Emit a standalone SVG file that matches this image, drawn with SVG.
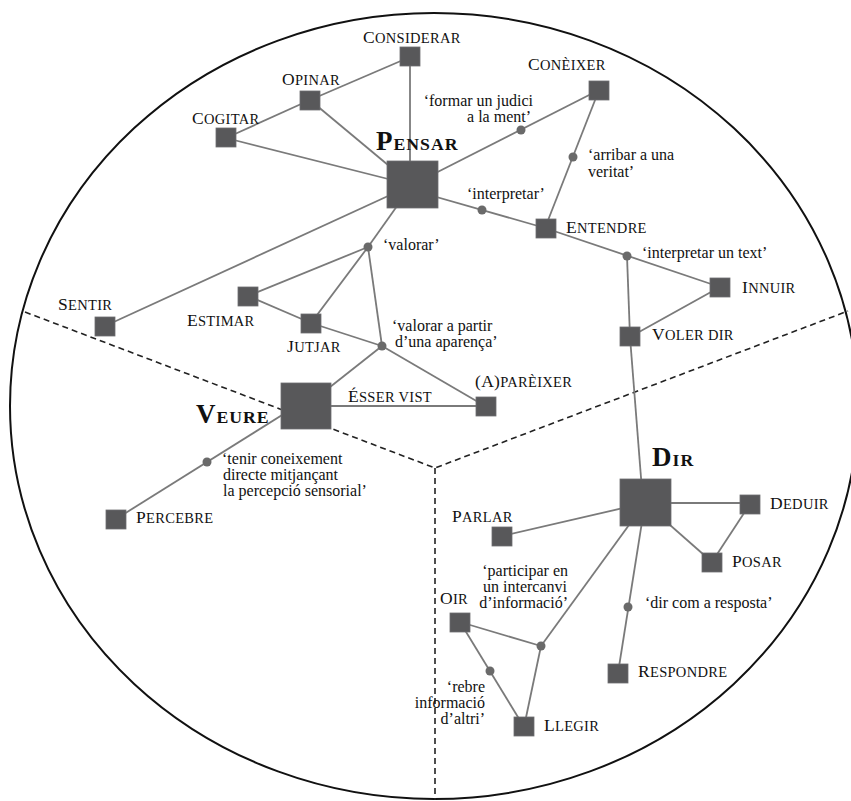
<svg xmlns="http://www.w3.org/2000/svg" width="851" height="801" viewBox="0 0 851 801">
<style>
.bg{fill:#ffffff}
.frame{fill:none;stroke:#111;stroke-width:2}
.dash{fill:none;stroke:#222;stroke-width:1.6;stroke-dasharray:6 4}
.ln{stroke:#7a7a7a;stroke-width:1.8;fill:none}
.box{fill:#58585a;stroke:#6e6e70;stroke-width:0.8}
.dot{fill:#6a6a6a}
text{font-family:"Liberation Serif","Times New Roman",serif;fill:#111}
.sc{font-size:14.5px;letter-spacing:0.3px}
.sc .b{font-size:17.5px}
.bold{font-size:17.7px;font-weight:bold;letter-spacing:1px}
.bold .b{font-size:27px}
.gl{font-size:16px}
.end{text-anchor:end}
</style>
<rect class="bg" x="0" y="0" width="851" height="801"/>
<ellipse class="frame" cx="434" cy="406" rx="424" ry="393"/>
<g id="dividers">
<polyline class="dash" points="25,312 435,468 848,311"/>
<line class="dash" x1="435" y1="468" x2="435" y2="800"/>
</g>
<g id="connectors">
<line class="ln" x1="410" y1="57" x2="310" y2="100"/>
<line class="ln" x1="310" y1="100" x2="226" y2="138"/>
<line class="ln" x1="410" y1="57" x2="410" y2="185"/>
<line class="ln" x1="310" y1="100" x2="412" y2="185"/>
<line class="ln" x1="226" y1="138" x2="412" y2="185"/>
<line class="ln" x1="412" y1="185" x2="599" y2="90"/>
<line class="ln" x1="412" y1="190" x2="545" y2="228"/>
<line class="ln" x1="599" y1="90" x2="545" y2="228"/>
<line class="ln" x1="545" y1="228" x2="720" y2="287"/>
<line class="ln" x1="627" y1="256" x2="630" y2="337"/>
<line class="ln" x1="630" y1="337" x2="720" y2="287"/>
<line class="ln" x1="630" y1="337" x2="643" y2="503"/>
<line class="ln" x1="412" y1="185" x2="105" y2="326"/>
<line class="ln" x1="412" y1="185" x2="368" y2="247"/>
<line class="ln" x1="368" y1="247" x2="248" y2="296"/>
<line class="ln" x1="368" y1="247" x2="311" y2="323"/>
<line class="ln" x1="368" y1="247" x2="382" y2="346"/>
<line class="ln" x1="248" y1="296" x2="311" y2="323"/>
<line class="ln" x1="311" y1="323" x2="382" y2="346"/>
<line class="ln" x1="382" y1="346" x2="485" y2="406"/>
<line class="ln" x1="382" y1="346" x2="306" y2="406"/>
<line class="ln" x1="306" y1="406" x2="485" y2="406"/>
<line class="ln" x1="306" y1="400" x2="116" y2="519"/>
<line class="ln" x1="645" y1="503" x2="502" y2="536"/>
<line class="ln" x1="645" y1="503" x2="750" y2="503"/>
<line class="ln" x1="645" y1="503" x2="712" y2="562"/>
<line class="ln" x1="750" y1="504" x2="712" y2="562"/>
<line class="ln" x1="645" y1="503" x2="541" y2="646"/>
<line class="ln" x1="645" y1="503" x2="618" y2="673"/>
<line class="ln" x1="460" y1="622" x2="541" y2="646"/>
<line class="ln" x1="541" y1="646" x2="524" y2="727"/>
<line class="ln" x1="460" y1="622" x2="524" y2="727"/>
<circle class="dot" cx="521" cy="130" r="4.5"/>
<circle class="dot" cx="573" cy="157" r="4.5"/>
<circle class="dot" cx="482" cy="210" r="4.5"/>
<circle class="dot" cx="627" cy="256" r="4.5"/>
<circle class="dot" cx="368" cy="247" r="4.5"/>
<circle class="dot" cx="382" cy="346" r="4.5"/>
<circle class="dot" cx="207" cy="462" r="4.5"/>
<circle class="dot" cx="541" cy="646" r="4.5"/>
<circle class="dot" cx="628" cy="607" r="4.5"/>
<circle class="dot" cx="490" cy="671" r="4.5"/>
</g>
<g id="glosses">
<text class="gl end" x="533" y="106">‘formar un judici</text>
<text class="gl end" x="531" y="122">a la ment’</text>
<text class="gl" x="588" y="160">‘arribar a una</text>
<text class="gl" x="588" y="177">veritat’</text>
<text class="gl" x="467" y="199">‘interpretar’</text>
<text class="gl" x="642" y="258">‘interpretar un text’</text>
<text class="gl" x="383" y="250">‘valorar’</text>
<text class="gl" x="392" y="331">‘valorar a partir</text>
<text class="gl" x="395" y="347">d’una aparença’</text>
<text class="gl" x="222" y="464">‘tenir coneixement</text>
<text class="gl" x="223" y="480">directe mitjançant</text>
<text class="gl" x="223" y="496">la percepció sensorial’</text>
<text class="gl end" x="568" y="576">‘participar en</text>
<text class="gl end" x="567" y="592">un intercanvi</text>
<text class="gl end" x="568" y="608">d’informació’</text>
<text class="gl" x="645" y="608">‘dir com a resposta’</text>
<text class="gl end" x="485" y="692">‘rebre</text>
<text class="gl end" x="485" y="708">informació</text>
<text class="gl end" x="485" y="724">d’altri’</text>
</g>
<g id="considerar"><rect class="box" x="400" y="47" width="20" height="19"/><text class="sc" x="363" y="43"><tspan class="b">C</tspan>ONSIDERAR</text></g>
<g id="opinar"><rect class="box" x="300" y="91" width="20" height="19"/><text class="sc" x="282" y="85"><tspan class="b">O</tspan>PINAR</text></g>
<g id="cogitar"><rect class="box" x="216" y="128" width="20" height="19"/><text class="sc" x="192" y="124"><tspan class="b">C</tspan>OGITAR</text></g>
<g id="pensar"><rect class="box" x="387" y="161" width="51" height="47"/><text class="bold" x="376" y="150"><tspan class="b">P</tspan>ENSAR</text></g>
<g id="coneixer"><rect class="box" x="589" y="81" width="20" height="19"/><text class="sc" x="528" y="70"><tspan class="b">C</tspan>ONÈIXER</text></g>
<g id="entendre"><rect class="box" x="536" y="219" width="20" height="19"/><text class="sc" x="566" y="233"><tspan class="b">E</tspan>NTENDRE</text></g>
<g id="innuir"><rect class="box" x="710" y="278" width="20" height="19"/><text class="sc" x="742" y="293"><tspan class="b">I</tspan>NNUIR</text></g>
<g id="volerdir"><rect class="box" x="620" y="327" width="20" height="19"/><text class="sc" x="652" y="340"><tspan class="b">V</tspan>OLER DIR</text></g>
<g id="sentir"><rect class="box" x="95" y="317" width="20" height="19"/><text class="sc" x="58" y="310"><tspan class="b">S</tspan>ENTIR</text></g>
<g id="estimar"><rect class="box" x="238" y="287" width="20" height="19"/><text class="sc" x="187" y="326"><tspan class="b">E</tspan>STIMAR</text></g>
<g id="jutjar"><rect class="box" x="301" y="314" width="20" height="19"/><text class="sc" x="287" y="352"><tspan class="b">J</tspan>UTJAR</text></g>
<g id="apareixer"><rect class="box" x="476" y="397" width="20" height="19"/><text class="sc" x="475" y="387"><tspan class="b">(A)</tspan>PARÈIXER</text></g>
<g id="veure"><rect class="box" x="281" y="383" width="50" height="46"/><text class="bold" x="196" y="423"><tspan class="b">V</tspan>EURE</text></g>
<g id="esservist"><text class="sc" x="348" y="402"><tspan class="b">É</tspan>SSER VIST</text></g>
<g id="percebre"><rect class="box" x="106" y="510" width="20" height="19"/><text class="sc" x="136" y="523"><tspan class="b">P</tspan>ERCEBRE</text></g>
<g id="dir"><rect class="box" x="620" y="479" width="51" height="47"/><text class="bold" x="652" y="466"><tspan class="b">D</tspan>IR</text></g>
<g id="deduir"><rect class="box" x="740" y="495" width="20" height="19"/><text class="sc" x="770" y="509"><tspan class="b">D</tspan>EDUIR</text></g>
<g id="posar"><rect class="box" x="702" y="553" width="20" height="19"/><text class="sc" x="732" y="567"><tspan class="b">P</tspan>OSAR</text></g>
<g id="parlar"><rect class="box" x="492" y="527" width="20" height="19"/><text class="sc" x="452" y="522"><tspan class="b">P</tspan>ARLAR</text></g>
<g id="oir"><rect class="box" x="450" y="613" width="20" height="19"/><text class="sc" x="440" y="604"><tspan class="b">O</tspan>IR</text></g>
<g id="respondre"><rect class="box" x="608" y="664" width="20" height="19"/><text class="sc" x="638" y="677"><tspan class="b">R</tspan>ESPONDRE</text></g>
<g id="llegir"><rect class="box" x="514" y="717" width="20" height="19"/><text class="sc" x="544" y="731"><tspan class="b">L</tspan>LEGIR</text></g>
</svg>
